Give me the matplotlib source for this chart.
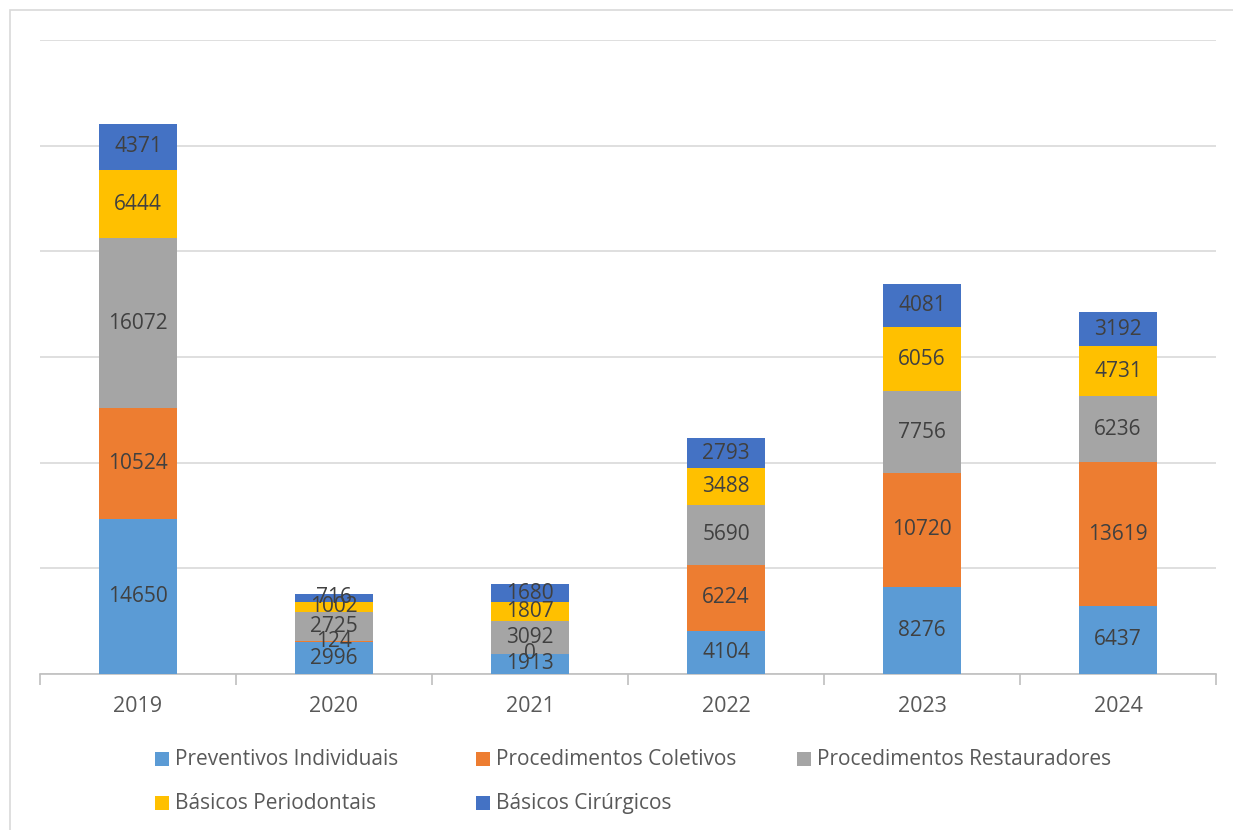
import matplotlib.pyplot as plt
from matplotlib.patches import Rectangle
import numpy as np

plt.rcParams['font.family'] = ['Open Sans', 'DejaVu Sans']

years = ["2019", "2020", "2021", "2022", "2023", "2024"]
preventivos = [14650, 2996, 1913, 4104, 8276, 6437]
coletivos = [10524, 124, 0, 6224, 10720, 13619]
restauradores = [16072, 2725, 3092, 5690, 7756, 6236]
periodontais = [6444, 1002, 1807, 3488, 6056, 4731]
cirurgicos = [4371, 716, 1680, 2793, 4081, 3192]

series = [
    ("Preventivos Individuais", preventivos, "#5B9BD5"),
    ("Procedimentos Coletivos", coletivos, "#ED7D31"),
    ("Procedimentos Restauradores", restauradores, "#A5A5A5"),
    ("Básicos Periodontais", periodontais, "#FFC000"),
    ("Básicos Cirúrgicos", cirurgicos, "#4472C4"),
]

W, H = 1233, 830
fig = plt.figure(figsize=(W / 100, H / 100), dpi=100)
# plot area in pixels: x 40..1216, y 40..674
ax = fig.add_axes([40 / W, 1 - 674 / H, (1216 - 40) / W, (674 - 40) / H])

# outer chart frame (cropped)
fig.patches.append(Rectangle((10 / W, -0.05), 1.1, 1 - 10 / H + 0.05,
                             transform=fig.transFigure, fill=False,
                             edgecolor="#D9D9D9", linewidth=1.2))

x = np.arange(len(years))
bottom = np.zeros(len(years))
for name, vals, color in series:
    vals = np.array(vals, dtype=float)
    ax.bar(x, vals, 0.4, bottom=bottom, color=color, label=name, zorder=3)
    for xi, b, v in zip(x, bottom, vals):
        ax.text(xi, b + v / 2, f"{int(v)}", ha="center", va="center",
                fontsize=15, color="#404040", zorder=4)
    bottom += vals

ax.set_xlim(-0.5, len(years) - 0.5)
ax.set_ylim(0, 60000)
ax.set_yticks(np.arange(0, 60001, 10000))
ax.yaxis.grid(True, color="#D9D9D9", linewidth=1.2, zorder=0)
ax.tick_params(axis="y", left=False, labelleft=False)
for side in ["top", "right", "left"]:
    ax.spines[side].set_visible(False)
ax.spines["bottom"].set_color("#BFBFBF")
ax.spines["bottom"].set_linewidth(1.2)

ax.set_xticks(x)
ax.set_xticklabels(years, fontsize=15.5, color="#595959")
ax.tick_params(axis="x", length=0, pad=16)
ax.set_xticks(np.arange(-0.5, len(years)), minor=True)
ax.tick_params(axis="x", which="minor", length=8, color="#BFBFBF", width=1.2)

# legend laid out like Excel: equal-width columns, filled row by row
col_x0, col_w = 155, 321
row_y0, row_h = 759, 44
sq = 14
for i, (name, _, color) in enumerate(series):
    r, c = divmod(i, 3)
    px = col_x0 + c * col_w
    py = row_y0 + r * row_h
    fig.add_artist(Rectangle((px / W, 1 - (py + sq / 2) / H), sq / W, sq / H,
                             transform=fig.transFigure, color=color, lw=0))
    fig.text((px + sq + 6) / W, 1 - py / H, name, ha="left", va="center",
             fontsize=15, color="#595959")

fig.savefig("out.png", dpi=100)
